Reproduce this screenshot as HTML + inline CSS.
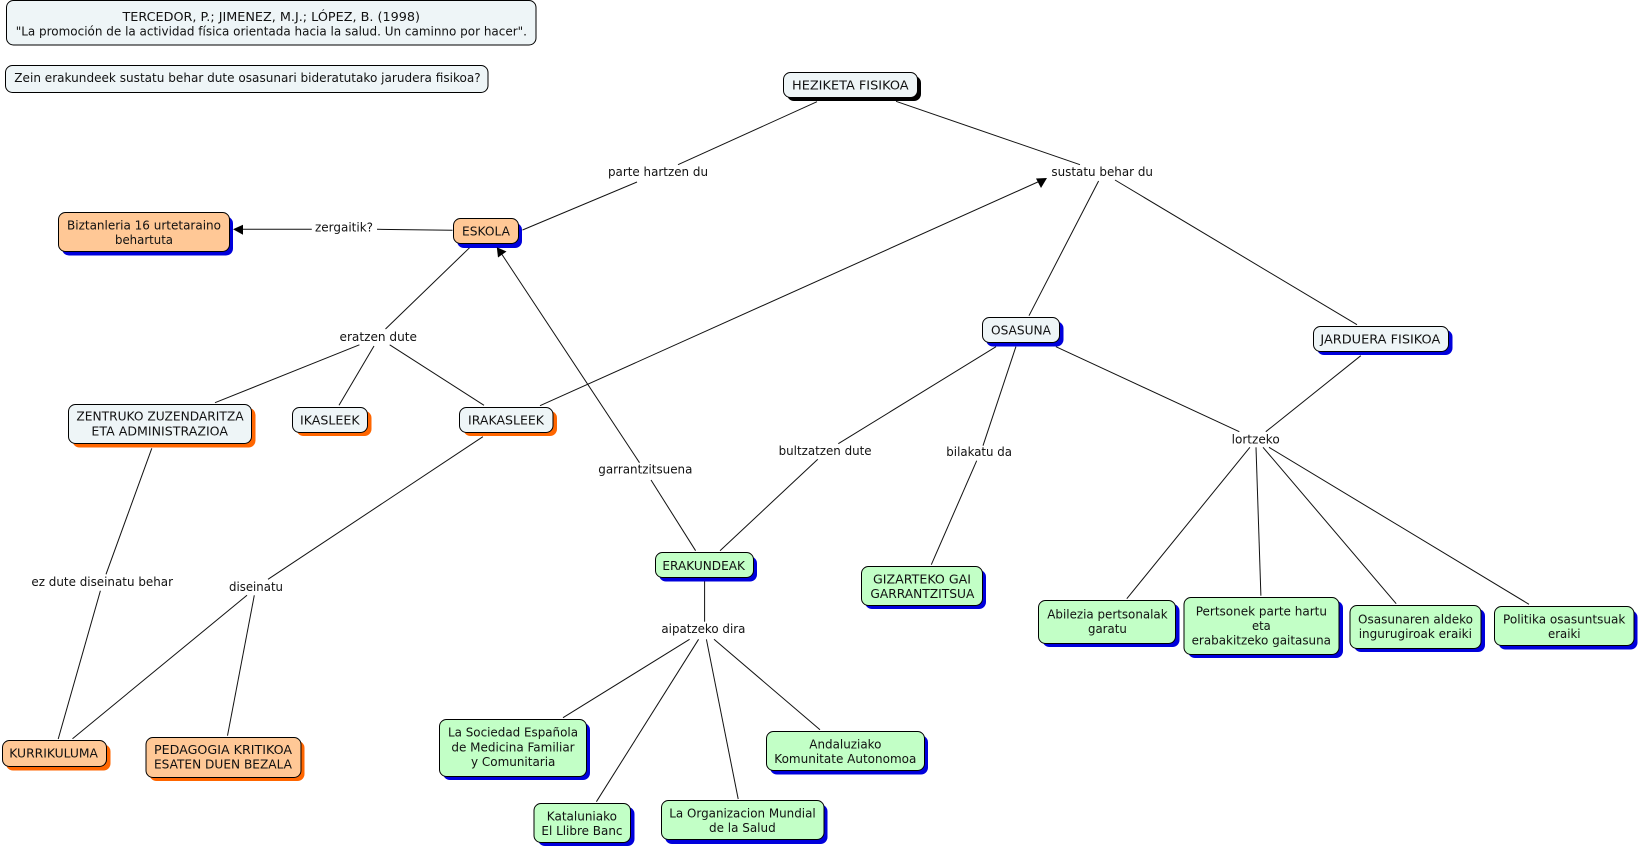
<!DOCTYPE html>
<html>
<head>
<meta charset="utf-8">
<title>Heziketa Fisikoa</title>
<style>
html,body{margin:0;padding:0;background:#fff;width:1638px;height:849px;overflow:hidden}
svg{display:block}
text{font-family:"DejaVu Sans","Liberation Sans",sans-serif;font-size:12px;fill:#111}
.l line{stroke:#111;stroke-width:1}
.p{fill:#eef5f7}.o{fill:#ffc896}.g{fill:#c2ffc6}
.b rect{stroke:#000;stroke-width:1}
.s rect{stroke:none}
</style>
</head>
<body>
<svg width="1638" height="849" viewBox="0 0 1638 849" xmlns="http://www.w3.org/2000/svg">
<rect width="1638" height="849" fill="#fff"/>
<g class="l">
<line x1="817" y1="101.7" x2="678" y2="164.7"/>
<line x1="637" y1="182" x2="522.5" y2="230"/>
<line x1="896" y1="101.3" x2="1080" y2="164.7"/>
<line x1="1098.6" y1="181" x2="1029" y2="315.7"/>
<line x1="1115" y1="180" x2="1357" y2="324.7"/>
<line x1="540" y1="405.7" x2="1040" y2="181"/>
<line x1="639.5" y1="462.7" x2="501" y2="253"/>
<line x1="695.6" y1="550.7" x2="651" y2="480"/>
<line x1="452.5" y1="230.3" x2="377" y2="229.3"/>
<line x1="311.8" y1="229.3" x2="240" y2="229.3"/>
<line x1="470" y1="247.3" x2="385.5" y2="329"/>
<line x1="359.4" y1="344.8" x2="215" y2="402.7"/>
<line x1="374" y1="346" x2="339" y2="405.3"/>
<line x1="389.7" y1="344.8" x2="484" y2="405.3"/>
<line x1="151.8" y1="448.3" x2="106" y2="574.3"/>
<line x1="100.4" y1="590.7" x2="58.2" y2="739"/>
<line x1="482.9" y1="436.7" x2="268" y2="579.3"/>
<line x1="247" y1="595.3" x2="72.5" y2="738.7"/>
<line x1="254.3" y1="595.3" x2="227.5" y2="735.7"/>
<line x1="704.6" y1="581.3" x2="704.6" y2="621.7"/>
<line x1="689.6" y1="639.3" x2="563" y2="717.7"/>
<line x1="698.6" y1="639.3" x2="596.4" y2="801.7"/>
<line x1="706.4" y1="639.3" x2="738.2" y2="799"/>
<line x1="714" y1="639.3" x2="820" y2="729.7"/>
<line x1="996" y1="346.7" x2="838.3" y2="443.7"/>
<line x1="817.8" y1="459.3" x2="720" y2="550.7"/>
<line x1="1015.9" y1="346.7" x2="983" y2="445.7"/>
<line x1="976.7" y1="460.7" x2="931.3" y2="564.7"/>
<line x1="1055.9" y1="346.7" x2="1239.3" y2="431.7"/>
<line x1="1360.8" y1="355.7" x2="1265.8" y2="431.7"/>
<line x1="1249.9" y1="447.3" x2="1126.8" y2="598.7"/>
<line x1="1256" y1="447.3" x2="1260.9" y2="595.7"/>
<line x1="1263" y1="447.3" x2="1396.2" y2="603.7"/>
<line x1="1269" y1="447.3" x2="1529" y2="604.3"/>
</g>
<g class="s">
<rect x="787" y="76" width="134" height="25" rx="7" fill="#000"/>
<rect x="62" y="216.5" width="171" height="39" rx="7" fill="#0000dc"/>
<rect x="457" y="223" width="65" height="25" rx="7" fill="#0000dc"/>
<rect x="72.5" y="408" width="183" height="39.5" rx="7" fill="#ff6600"/>
<rect x="296.5" y="411" width="75" height="25" rx="7" fill="#ff6600"/>
<rect x="463.5" y="411" width="93.5" height="25" rx="7" fill="#ff6600"/>
<rect x="6" y="744.5" width="104.5" height="26" rx="7" fill="#ff6600"/>
<rect x="149.5" y="741" width="155" height="40" rx="7" fill="#ff6600"/>
<rect x="659" y="556.5" width="98" height="25" rx="7" fill="#0000dc"/>
<rect x="443" y="723" width="147" height="57" rx="7" fill="#0000dc"/>
<rect x="538" y="807" width="96.5" height="39" rx="7" fill="#0000dc"/>
<rect x="665" y="804.5" width="162.5" height="39.5" rx="7" fill="#0000dc"/>
<rect x="770" y="735.5" width="158" height="39" rx="7" fill="#0000dc"/>
<rect x="865" y="570" width="121" height="39" rx="7" fill="#0000dc"/>
<rect x="986" y="321.5" width="77.5" height="25" rx="7" fill="#0000dc"/>
<rect x="1317" y="330" width="135.5" height="25" rx="7" fill="#0000dc"/>
<rect x="1042.5" y="604" width="137" height="43" rx="7" fill="#0000dc"/>
<rect x="1188" y="601" width="155" height="57" rx="7" fill="#0000dc"/>
<rect x="1354" y="609" width="131" height="43" rx="7" fill="#0000dc"/>
<rect x="1498.5" y="610.5" width="139" height="39" rx="7" fill="#0000dc"/>
</g>
<g class="b">
<rect class="p" x="6.5" y="0.5" width="529.5" height="44.5" rx="7"/>
<rect class="p" x="5.5" y="65.5" width="482.5" height="27" rx="7"/>
<rect class="p" x="783.5" y="72.5" width="134" height="25" rx="7"/>
<rect class="o" x="58.5" y="212.5" width="171" height="39" rx="7"/>
<rect class="o" x="453.5" y="218.5" width="65" height="25" rx="7"/>
<rect class="p" x="68.5" y="404.5" width="183" height="39" rx="7"/>
<rect class="p" x="292.5" y="407.5" width="75" height="25" rx="7"/>
<rect class="p" x="459.5" y="407.5" width="93.5" height="25" rx="7"/>
<rect class="o" x="2.5" y="740.5" width="104" height="26" rx="7"/>
<rect class="o" x="146" y="737.5" width="155" height="40" rx="7"/>
<rect class="g" x="655.5" y="552.5" width="98" height="25" rx="7"/>
<rect class="g" x="439.5" y="719.5" width="147" height="57" rx="7"/>
<rect class="g" x="534" y="803.5" width="96.5" height="39" rx="7"/>
<rect class="g" x="661.5" y="800.5" width="162.5" height="39" rx="7"/>
<rect class="g" x="766.5" y="731.5" width="158" height="39" rx="7"/>
<rect class="g" x="861.5" y="566.5" width="121" height="39" rx="7"/>
<rect class="p" x="982.5" y="317.5" width="77" height="25" rx="7"/>
<rect class="p" x="1313.5" y="326.5" width="135" height="25" rx="7"/>
<rect class="g" x="1038.5" y="600.5" width="137" height="43" rx="7"/>
<rect class="g" x="1184" y="597.5" width="155" height="57" rx="7"/>
<rect class="g" x="1350" y="605.5" width="131" height="43" rx="7"/>
<rect class="g" x="1494.5" y="606.5" width="139.5" height="39" rx="7"/>
</g>
<polygon points="233,229.3 243,224.7 243,234.7" fill="#000"/>
<polygon points="496.8,247.3 506.5,251.5 498,257.5" fill="#000"/>
<polygon points="1047,178 1036,178.5 1041,188" fill="#000"/>
<g lengthAdjust="spacingAndGlyphs">
<text x="122.5" y="21" textLength="297.5" lengthAdjust="spacingAndGlyphs">TERCEDOR, P.; JIMENEZ, M.J.; LÓPEZ, B. (1998)</text>
<text x="15.7" y="35.7" textLength="511.3" lengthAdjust="spacingAndGlyphs">"La promoción de la actividad física orientada hacia la salud. Un caminno por hacer".</text>
<text x="14.3" y="82" textLength="466.4" lengthAdjust="spacingAndGlyphs">Zein erakundeek sustatu behar dute osasunari bideratutako jarudera fisikoa?</text>
<text x="792" y="89.3" textLength="116.6" lengthAdjust="spacingAndGlyphs">HEZIKETA FISIKOA</text>
<text x="608" y="176" textLength="100" lengthAdjust="spacingAndGlyphs">parte hartzen du</text>
<text x="1051.4" y="176" textLength="101.6" lengthAdjust="spacingAndGlyphs">sustatu behar du</text>
<text x="67" y="229.3" textLength="154" lengthAdjust="spacingAndGlyphs">Biztanleria 16 urtetaraino</text>
<text x="115" y="244" textLength="58" lengthAdjust="spacingAndGlyphs">behartuta</text>
<text x="315" y="231.3" textLength="58" lengthAdjust="spacingAndGlyphs">zergaitik?</text>
<text x="462" y="235.3" textLength="48" lengthAdjust="spacingAndGlyphs">ESKOLA</text>
<text x="339.5" y="341" textLength="77.5" lengthAdjust="spacingAndGlyphs">eratzen dute</text>
<text x="76.4" y="420.7" textLength="167.2" lengthAdjust="spacingAndGlyphs">ZENTRUKO ZUZENDARITZA</text>
<text x="91.4" y="435.3" textLength="136.6" lengthAdjust="spacingAndGlyphs">ETA ADMINISTRAZIOA</text>
<text x="300" y="424.3" textLength="59.6" lengthAdjust="spacingAndGlyphs">IKASLEEK</text>
<text x="468" y="424.3" textLength="76" lengthAdjust="spacingAndGlyphs">IRAKASLEEK</text>
<text x="31.4" y="586" textLength="141.6" lengthAdjust="spacingAndGlyphs">ez dute diseinatu behar</text>
<text x="229" y="591" textLength="54" lengthAdjust="spacingAndGlyphs">diseinatu</text>
<text x="9.3" y="757.7" textLength="88.7" lengthAdjust="spacingAndGlyphs">KURRIKULUMA</text>
<text x="154" y="754" textLength="138" lengthAdjust="spacingAndGlyphs">PEDAGOGIA KRITIKOA</text>
<text x="154" y="768.7" textLength="138" lengthAdjust="spacingAndGlyphs">ESATEN DUEN BEZALA</text>
<text x="598.3" y="473.7" textLength="94.1" lengthAdjust="spacingAndGlyphs">garrantzitsuena</text>
<text x="778.6" y="455" textLength="93" lengthAdjust="spacingAndGlyphs">bultzatzen dute</text>
<text x="946.3" y="456" textLength="65.7" lengthAdjust="spacingAndGlyphs">bilakatu da</text>
<text x="662.4" y="570" textLength="82.6" lengthAdjust="spacingAndGlyphs">ERAKUNDEAK</text>
<text x="873" y="583.3" textLength="98" lengthAdjust="spacingAndGlyphs">GIZARTEKO GAI</text>
<text x="870.4" y="598" textLength="104" lengthAdjust="spacingAndGlyphs">GARRANTZITSUA</text>
<text x="991" y="334.3" textLength="60" lengthAdjust="spacingAndGlyphs">OSASUNA</text>
<text x="661.4" y="633" textLength="84" lengthAdjust="spacingAndGlyphs">aipatzeko dira</text>
<text x="448" y="736.7" textLength="130" lengthAdjust="spacingAndGlyphs">La Sociedad Española</text>
<text x="451.4" y="751.3" textLength="123.2" lengthAdjust="spacingAndGlyphs">de Medicina Familiar</text>
<text x="471" y="766" textLength="84.4" lengthAdjust="spacingAndGlyphs">y Comunitaria</text>
<text x="546.8" y="820.3" textLength="70.2" lengthAdjust="spacingAndGlyphs">Kataluniako</text>
<text x="541.4" y="835" textLength="81.1" lengthAdjust="spacingAndGlyphs">El Llibre Banc</text>
<text x="669.3" y="817.3" textLength="146.4" lengthAdjust="spacingAndGlyphs">La Organizacion Mundial</text>
<text x="709" y="832" textLength="66.7" lengthAdjust="spacingAndGlyphs">de la Salud</text>
<text x="809.3" y="748.3" textLength="72.1" lengthAdjust="spacingAndGlyphs">Andaluziako</text>
<text x="774.3" y="763" textLength="142.1" lengthAdjust="spacingAndGlyphs">Komunitate Autonomoa</text>
<text x="1320.4" y="343.3" textLength="119.9" lengthAdjust="spacingAndGlyphs">JARDUERA FISIKOA</text>
<text x="1231.6" y="443.3" textLength="48.1" lengthAdjust="spacingAndGlyphs">lortzeko</text>
<text x="1047.3" y="618.3" textLength="120.3" lengthAdjust="spacingAndGlyphs">Abilezia pertsonalak</text>
<text x="1088" y="633" textLength="38.8" lengthAdjust="spacingAndGlyphs">garatu</text>
<text x="1195.7" y="615.3" textLength="131.3" lengthAdjust="spacingAndGlyphs">Pertsonek parte hartu</text>
<text x="1252" y="630" textLength="18.7" lengthAdjust="spacingAndGlyphs">eta</text>
<text x="1191.6" y="644.7" textLength="139.4" lengthAdjust="spacingAndGlyphs">erabakitzeko gaitasuna</text>
<text x="1358" y="623.3" textLength="115" lengthAdjust="spacingAndGlyphs">Osasunaren aldeko</text>
<text x="1358.7" y="638" textLength="113.3" lengthAdjust="spacingAndGlyphs">ingurugiroak eraiki</text>
<text x="1503" y="623.3" textLength="122.4" lengthAdjust="spacingAndGlyphs">Politika osasuntsuak</text>
<text x="1548" y="638" textLength="32.5" lengthAdjust="spacingAndGlyphs">eraiki</text>
</g>
</svg>
</body>
</html>
